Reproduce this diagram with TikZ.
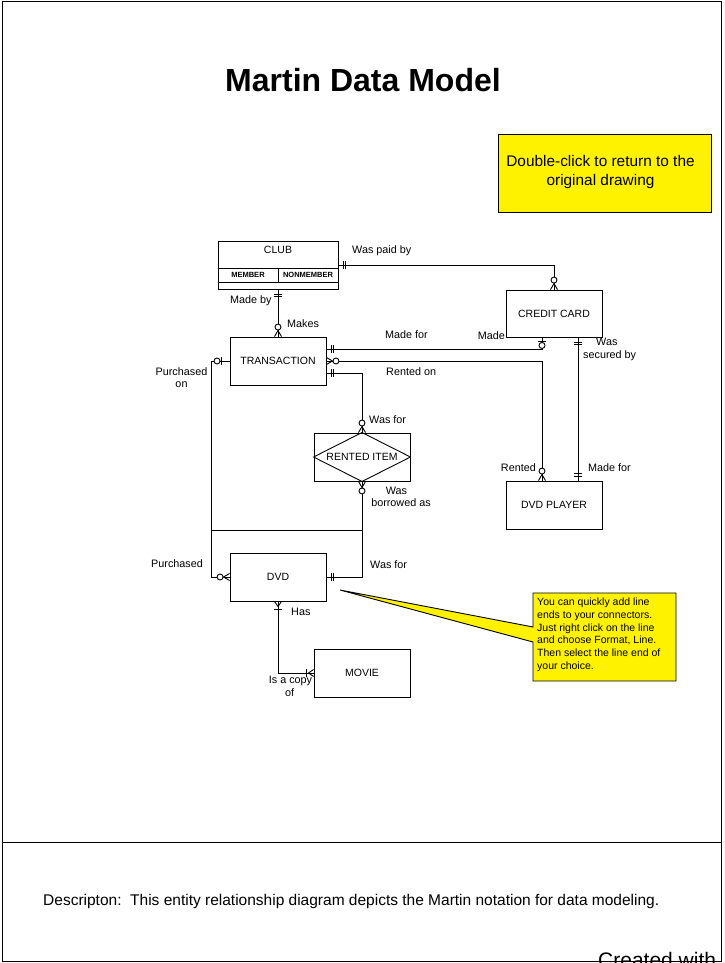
\documentclass[tikz,border=0pt]{standalone}
\usepackage{fontspec}
\setmainfont{Liberation Sans}
\usetikzlibrary{calc}
\newcommand\mOneOne[2]{\begin{scope}[shift={(#1)},rotate=#2]\draw[mk] (4.5,-4)--(4.5,4) (7,-4)--(7,4);\end{scope}}
\newcommand\mZeroMany[2]{\begin{scope}[shift={(#1)},rotate=#2]\draw[mk] (0,-3.5)--(6,0)--(0,3.5);\draw[mk,fill=white] (9.5,0) circle[radius=3pt];\end{scope}}
\newcommand\mZeroOne[3]{\begin{scope}[shift={(#1)},rotate=#2]\draw[mk] (#3,-4)--(#3,4);\draw[mk,fill=white] (#3+4.5,0) circle[radius=3pt];\end{scope}}
\newcommand\mOneMany[2]{\begin{scope}[shift={(#1)},rotate=#2]\draw[mk] (0,-3.5)--(5,0)--(0,3.5);\draw[mk] (7.5,-4)--(7.5,4);\end{scope}}
\begin{document}
\begin{tikzpicture}[x=1pt,y=-1pt,
  entity/.style={draw, line width=0.9pt, minimum width=96pt, minimum height=48pt, inner sep=0pt, font=\fontsize{10.5}{12}\selectfont},
  lbl/.style={inner sep=0pt, font=\fontsize{10.8}{12.5}\selectfont, text height=7.7pt, text depth=0pt},
  small/.style={inner sep=0pt, font=\bfseries\fontsize{7.5}{9}\selectfont},
  conn/.style={line width=0.9pt},
  mk/.style={line width=0.9pt}]
\useasboundingbox (0,0) rectangle (724,963);
\clip (0,0) rectangle (724,963);
% frame
\node[anchor=west, inner sep=0pt, font=\fontsize{21}{24}\selectfont, text height=15pt, text depth=0pt] (created) at (598,959.5) {Created with};
\draw[line width=0.9pt] (2,1) rectangle (721,961);
\draw[line width=0.9pt] (2,842) -- (721,842);
% title
\node[inner sep=0pt, font=\bfseries\fontsize{32}{36}\selectfont, text height=23pt, text depth=0pt] (title) at (363,80) {Martin Data Model};
% top note
\node[draw, line width=0.9pt, fill=yellow, minimum width=213pt, minimum height=78pt, inner sep=0pt] (note) at (604.5,173) {};
\node[inner sep=0pt, align=center, font=\fontsize{15.4}{19}\selectfont] (notetext) at (600.5,172) {Double-click to return to the\\original drawing};
% entities
\node[entity, minimum width=120pt] (club) at (278,265) {};
\draw[line width=0.9pt] ([yshift=-3pt]club.west) -- ([yshift=-3pt]club.east);
\draw[line width=0.9pt] ([yshift=-17pt]club.west) -- ([yshift=-17pt]club.east);
\draw[line width=0.9pt] ([yshift=-3pt]club.center) -- ([yshift=-17pt]club.center);
\node[lbl, font=\fontsize{10.5}{12}\selectfont] (clubname) at ([yshift=15pt]club.center) {CLUB};
\node[small] (member) at ([xshift=-30pt,yshift=-10pt]club.center) {MEMBER};
\node[small] (nonmember) at ([xshift=30pt,yshift=-10pt]club.center) {NONMEMBER};
\node[entity] (tr) at (278,361) {TRANSACTION};
\node[entity, minimum height=47pt] (cc) at (554,313.5) {CREDIT CARD};
\node[entity] (ri) at (362,457) {};
\draw[line width=0.9pt] (ri.north) -- (ri.east) -- (ri.south) -- (ri.west) -- cycle;
\node[lbl, font=\fontsize{10.5}{12}\selectfont] (riname) at (ri.center) {RENTED ITEM};
\node[entity] (dp) at (554,505) {DVD PLAYER};
\node[entity] (dvd) at (278,577) {DVD};
\node[entity] (mv) at (362,673) {MOVIE};
% endpoints
\coordinate (tre1) at ([yshift=12pt]tr.east);
\coordinate (tre3) at ([yshift=-12pt]tr.east);
\coordinate (ccs1) at ([xshift=-12pt]cc.south);
\coordinate (ccs2) at ([xshift=24pt]cc.south);
\coordinate (dpn1) at ([xshift=-12pt]dp.north);
\coordinate (dpn2) at ([xshift=24pt]dp.north);
\coordinate (jl) at (212,530);
\coordinate (jr) at (362,530);
% connectors
\draw[conn] (club.east) -| (cc.north);
\draw[conn] (club.south) -- (tr.north);
\draw[conn] (tre1) -| (ccs1);
\draw[conn] (tr.east) -| (dpn1);
\draw[conn] (tre3) -| (ri.north);
\draw[conn] (ccs2) -- (dpn2);
\draw[conn] (tr.west) -- ++(-18,0) |- (dvd.west);
\draw[conn] (ri.south) |- (dvd.east);
\draw[conn] (dvd.south) |- (mv.west);
\draw[conn] (jl) -- (jr);
% line ends
\mOneOne{club.east}{0}
\mZeroMany{cc.north}{90}
\mOneOne{club.south}{-90}
\mZeroMany{tr.north}{90}
\mOneOne{tre1}{0}
\mZeroOne{ccs1}{-90}{3.5}
\mZeroMany{tr.east}{0}
\mZeroMany{dpn1}{90}
\mOneOne{tre3}{0}
\mZeroMany{ri.north}{90}
\mOneOne{ccs2}{-90}
\mOneOne{dpn2}{90}
\mZeroOne{tr.west}{180}{8}
\mZeroMany{dvd.west}{180}
\mZeroMany{ri.south}{-90}
\mOneOne{dvd.east}{0}
\mOneMany{dvd.south}{-90}
\mOneMany{mv.west}{180}
% labels
\node[lbl, anchor=west] (l1) at (352,250) {Was paid by};
\node[lbl, anchor=west] (l2) at (230,300) {Made by};
\node[lbl, anchor=west] (l3) at (287,324) {Makes};
\node[lbl, anchor=west] (l4) at (385,335) {Made for};
\node[lbl, anchor=west] (l5) at (386,372) {Rented on};
\node[lbl, anchor=east] (l6) at (505,336) {Made};
\node[lbl, anchor=west] (l7) at (596,342) {Was};
\node[lbl, anchor=west] (l8) at (583,355) {secured by};
\node[lbl, anchor=west] (l9) at (369,420) {Was for};
\node[lbl] (l10) at (396.5,491) {Was};
\node[lbl] (l11) at (401,503) {borrowed as};
\node[lbl] (l12) at (181.5,372) {Purchased};
\node[lbl] (l13) at (181.5,384) {on};
\node[lbl, anchor=east] (l14) at (536,468) {Rented};
\node[lbl, anchor=west] (l15) at (588,468) {Made for};
\node[lbl, anchor=west] (l16) at (151,564) {Purchased};
\node[lbl, anchor=west] (l17) at (370,565) {Was for};
\node[lbl, anchor=west] (l18) at (291,612) {Has};
\node[lbl] (l19) at (290.5,680) {Is a copy};
\node[lbl] (l20) at (289.5,693) {of};
% callout
\coordinate (tip) at (340,590);
\draw[line width=0.9pt, fill=yellow] (tip) -- (533,627) -- (533,593) -- (676,593) -- (676,681) -- (533,681) -- (533,642) -- cycle;
\node[anchor=north west, inner sep=0pt, align=left, font=\fontsize{10.5}{12.7}\selectfont] (calltext) at (537,598) {You can quickly add line\\ends to your connectors.\\Just right click on the line\\and choose Format, Line.\\Then select the line end of\\your choice.};
% description
\node[lbl, anchor=west, font=\fontsize{15.5}{18}\selectfont, text height=11.1pt] (desc) at (43,900) {Descripton:\ \ This entity relationship diagram depicts the Martin notation for data modeling.};
\end{tikzpicture}
\end{document}
